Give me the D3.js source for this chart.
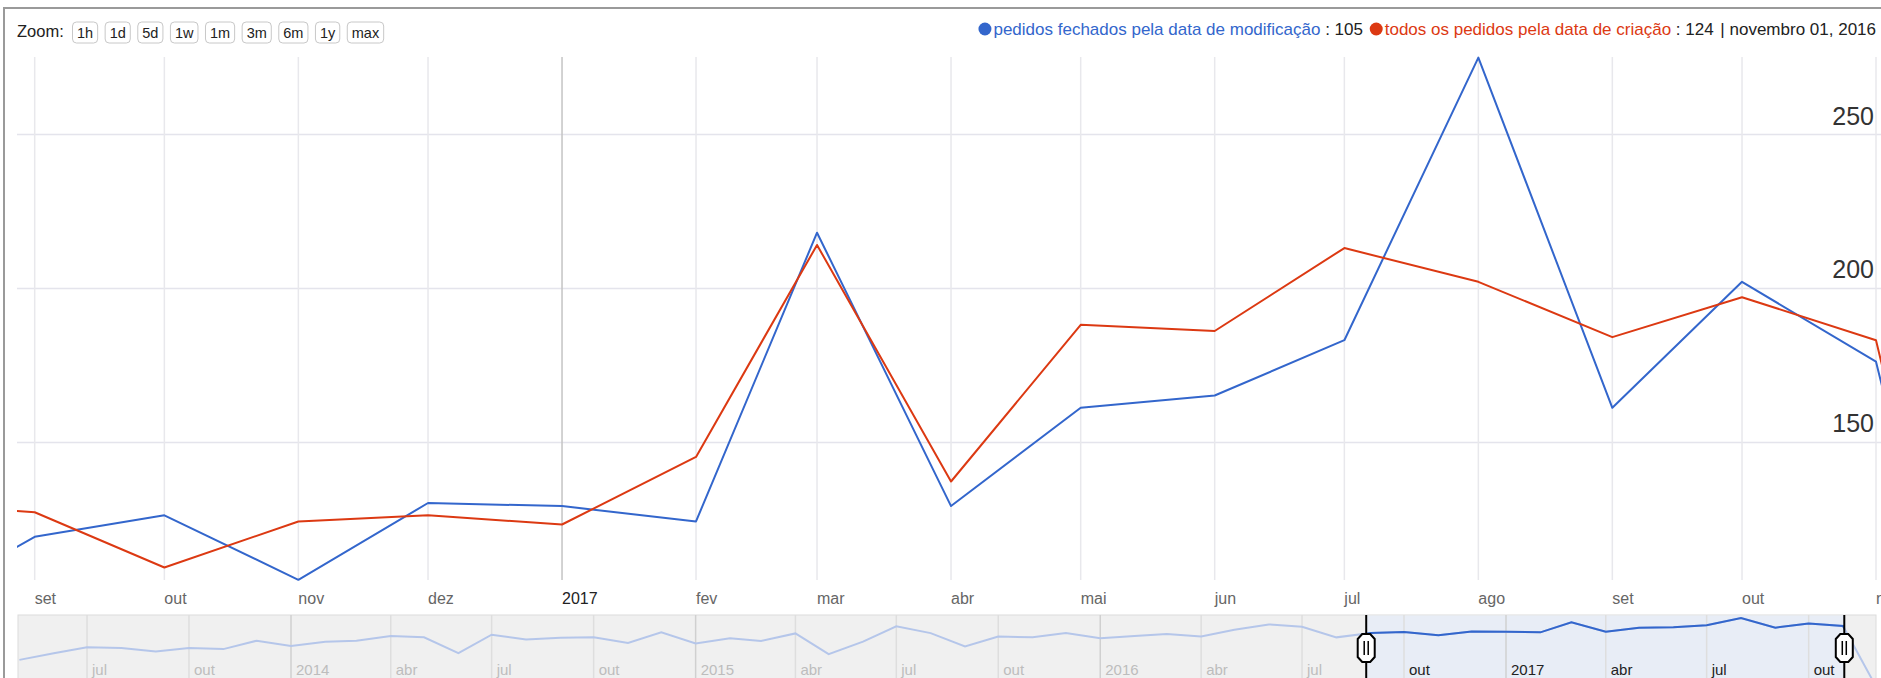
<!DOCTYPE html>
<html>
<head>
<meta charset="utf-8">
<script src="https://cdn.jsdelivr.net/npm/d3@7"></script>
<style>
  html, body { margin: 0; padding: 0; background: #fff; overflow: hidden; }
  svg { display: block; font-family: "Liberation Sans", Arial, Helvetica, sans-serif; }
  text { white-space: pre; }
</style>
</head>
<body>
<svg id="chart" width="1881" height="678"></svg>
<script>
// pedidos fechados pela data de modificação, one value per month from 2013-05 to 2017-12
const fechadosStart = new Date(2013, 4, 1);
const fechados = [
  27, 39, 54, 52, 43, 52, 49, 78,
  58, 74, 78, 101, 94, 39, 109, 84, 92, 94, 69, 124,
  67, 89, 77, 117, 37, 74, 173, 119, 57, 99, 94, 119,
  89, 101, 113, 99, 144, 193, 170, 94, 119, 126, 105, 130,
  129, 124, 218, 129, 161, 165, 183, 275, 161, 202, 176, 6
];
// todos os pedidos pela data de criação, one value per month from 2016-08 to 2017-12
const todosStart = new Date(2016, 7, 1);
const todos = [130, 127, 109, 124, 126, 123, 145, 214, 137, 188, 186, 213, 202, 184, 197, 183, 8];

const seriesNames = ['pedidos fechados pela data de modificação', 'todos os pedidos pela data de criação'];
const seriesColors = ['#3366cc', '#dc3912'];
const zoomLabels = ['1h', '1d', '5d', '1w', '1m', '3m', '6m', '1y', 'max'];
const monthNames = ['jan', 'fev', 'mar', 'abr', 'mai', 'jun', 'jul', 'ago', 'set', 'out', 'nov', 'dez'];
const monthLong = ['janeiro', 'fevereiro', 'março', 'abril', 'maio', 'junho', 'julho', 'agosto', 'setembro', 'outubro', 'novembro', 'dezembro'];
const yTicks = [150, 200, 250];
const hoverDate = new Date(2016, 10, 1);
const viewStart = new Date(2016, 8, 1);
const viewEnd = new Date(2017, 10, 1);

const W = 1881, H = 678;
const plot = { left: 17, right: W, top: 57, bottom: 580 };
const nav = { left: 18, right: 1876, top: 615, bottom: 700 };

const toPoints = (start, values) => values.map((v, i) => ({ date: d3.timeMonth.offset(start, i), value: v }));
const series = [toPoints(fechadosStart, fechados), toPoints(todosStart, todos)];

const svg = d3.select('#chart');
const defs = svg.append('defs');

// outer frame
svg.append('rect')
  .attr('x', 4).attr('y', 8).attr('width', W + 10).attr('height', H + 10)
  .attr('fill', '#fff').attr('stroke', '#9a9a9a').attr('stroke-width', 2);

// zoom buttons
const head = svg.append('g');
head.append('text').attr('x', 17).attr('y', 37)
  .attr('font-size', 16.5).attr('fill', '#222').text('Zoom:');

let bx = 72;
zoomLabels.forEach((label) => {
  const g = head.append('g');
  const t = g.append('text').attr('y', 37.5).attr('font-size', 14.5).attr('fill', '#222')
    .attr('text-anchor', 'middle').text(label);
  const w = t.node().getComputedTextLength() + 9;
  g.insert('rect', 'text')
    .attr('x', bx + 0.5).attr('y', 22).attr('width', w).attr('height', 21).attr('rx', 4)
    .attr('fill', '#fff').attr('stroke', '#c8c8c8');
  t.attr('x', bx + w / 2 + 0.5);
  bx += w + 7.5;
});

// legend, laid out left to right then pushed to the right edge
const legend = svg.append('g');
const legendSize = 17;
let lx = 0;
series.forEach((s, i) => {
  const point = s.find((d) => +d.date === +hoverDate);
  legend.append('circle').attr('cx', lx + 6.5).attr('cy', 29).attr('r', 6.5).attr('fill', seriesColors[i]);
  lx += 15;
  const name = legend.append('text').attr('x', lx).attr('y', 34.5).attr('font-size', legendSize)
    .attr('fill', seriesColors[i]).text(seriesNames[i]);
  lx += name.node().getComputedTextLength();
  const val = legend.append('text').attr('x', lx).attr('y', 34.5).attr('font-size', legendSize)
    .attr('fill', '#222').text(` : ${point.value} `);
  lx += val.node().getComputedTextLength() + 2;
});
const dateText = legend.append('text').attr('x', lx).attr('y', 34.5).attr('font-size', legendSize).attr('fill', '#222')
  .text(`| ${monthLong[hoverDate.getMonth()]} ${d3.timeFormat('%d, %Y')(hoverDate)}`);
lx += dateText.node().getComputedTextLength();
legend.attr('transform', `translate(${1876 - lx},0)`);

// main scales
const x = d3.scaleTime().domain([viewStart, viewEnd]).range([34.7, 1876]);
const visible = series.flat().filter((d) => d.date >= viewStart && d.date <= viewEnd);
const y = d3.scaleLinear().domain(d3.extent(visible, (d) => d.value)).range([579.8, 57.6]);

defs.append('clipPath').attr('id', 'plotClip').append('rect')
  .attr('x', plot.left).attr('y', 40).attr('width', plot.right - plot.left).attr('height', plot.bottom - 40 + 4);

// horizontal grid
svg.append('g').selectAll('line').data(yTicks).join('line')
  .attr('x1', plot.left).attr('x2', plot.right)
  .attr('y1', (d) => Math.round(y(d)) + 0.5).attr('y2', (d) => Math.round(y(d)) + 0.5)
  .attr('stroke', '#e4e4ec').attr('stroke-width', 1.5);

// vertical grid + x labels
const months = d3.timeMonth.range(x.invert(plot.left), x.invert(plot.right));
const vgrid = svg.append('g');
vgrid.selectAll('line').data(months).join('line')
  .attr('x1', (d) => x(d)).attr('x2', (d) => x(d))
  .attr('y1', plot.top).attr('y2', plot.bottom)
  .attr('stroke', (d) => d.getMonth() === 0 ? '#c4c4c4' : '#e8e8ec').attr('stroke-width', 1.5);
vgrid.selectAll('text').data(months).join('text')
  .attr('x', (d) => x(d)).attr('y', 604).attr('font-size', 16)
  .attr('fill', (d) => d.getMonth() === 0 ? '#222' : '#666')
  .text((d) => d.getMonth() === 0 ? d.getFullYear() : monthNames[d.getMonth()]);

// y labels sit above their grid lines
svg.append('g').selectAll('text').data(yTicks).join('text')
  .attr('x', 1874).attr('y', (d) => y(d) - 9.5).attr('text-anchor', 'end')
  .attr('font-size', 25).attr('fill', '#333').text((d) => d);

// series lines
const line = d3.line().x((d) => x(d.date)).y((d) => y(d.value));
svg.append('g').attr('clip-path', 'url(#plotClip)')
  .selectAll('path').data(series).join('path')
  .attr('d', line).attr('fill', 'none')
  .attr('stroke', (d, i) => seriesColors[i]).attr('stroke-width', 2)
  .attr('stroke-linejoin', 'round');

// navigator
const nx = d3.scaleTime().domain([new Date(2014, 0, 1), new Date(2017, 0, 1)]).range([291, 1506]);
const ny = d3.scaleLog().domain(d3.extent(fechados)).range([687, 618]);
const selL = nx(x.invert(plot.left));
const selR = nx(x.invert(plot.right));

defs.append('clipPath').attr('id', 'navClip').append('rect')
  .attr('x', nav.left).attr('y', nav.top).attr('width', nav.right - nav.left).attr('height', nav.bottom - nav.top);
defs.append('clipPath').attr('id', 'selClip').append('rect')
  .attr('x', selL).attr('y', nav.top).attr('width', selR - selL).attr('height', nav.bottom - nav.top);

const navG = svg.append('g');
navG.append('rect')
  .attr('x', nav.left).attr('y', nav.top).attr('width', nav.right - nav.left).attr('height', nav.bottom - nav.top)
  .attr('fill', '#f0f0f0').attr('stroke', '#dcdcdc');
navG.append('rect')
  .attr('x', selL).attr('y', nav.top + 0.5).attr('width', selR - selL).attr('height', nav.bottom - nav.top)
  .attr('fill', '#e8edf6');

const quarters = d3.timeMonth.every(3).range(nx.invert(nav.left), nx.invert(nav.right));
const navTicks = navG.append('g').attr('clip-path', 'url(#navClip)');
navTicks.selectAll('line').data(quarters).join('line')
  .attr('x1', (d) => nx(d)).attr('x2', (d) => nx(d))
  .attr('y1', nav.top).attr('y2', nav.bottom)
  .attr('stroke', (d) => d.getMonth() === 0 ? '#d0d0d0' : '#dedede').attr('stroke-width', 1.5);
navTicks.selectAll('text').data(quarters).join('text')
  .attr('x', (d) => nx(d) + 5).attr('y', 675).attr('font-size', 15)
  .attr('fill', (d) => nx(d) > selL && nx(d) < selR ? '#222' : '#bdbdbd')
  .text((d) => d.getMonth() === 0 ? d.getFullYear() : monthNames[d.getMonth()]);

const navLine = d3.line().x((d) => nx(d.date)).y((d) => ny(d.value));
navG.append('path').datum(series[0]).attr('clip-path', 'url(#navClip)')
  .attr('d', navLine).attr('fill', 'none').attr('stroke', '#b5c6ea').attr('stroke-width', 2);
navG.append('path').datum(series[0]).attr('clip-path', 'url(#selClip)')
  .attr('d', navLine).attr('fill', 'none').attr('stroke', '#3366cc').attr('stroke-width', 2);

// selection handles
[selL, selR].forEach((hx) => {
  const g = navG.append('g').attr('transform', `translate(${hx},0)`);
  g.append('line').attr('y1', nav.top).attr('y2', H).attr('stroke', '#000').attr('stroke-width', 2);
  g.append('path')
    .attr('d', 'M-4,634 L4,634 L8.5,639 L8.5,657 L4,662 L-4,662 L-8.5,657 L-8.5,639 Z')
    .attr('fill', '#fff').attr('stroke', '#000').attr('stroke-width', 2);
  g.append('path').attr('d', 'M-2,641 V655 M2,641 V655').attr('stroke', '#000').attr('stroke-width', 1.5);
});
</script>
</body>
</html>
